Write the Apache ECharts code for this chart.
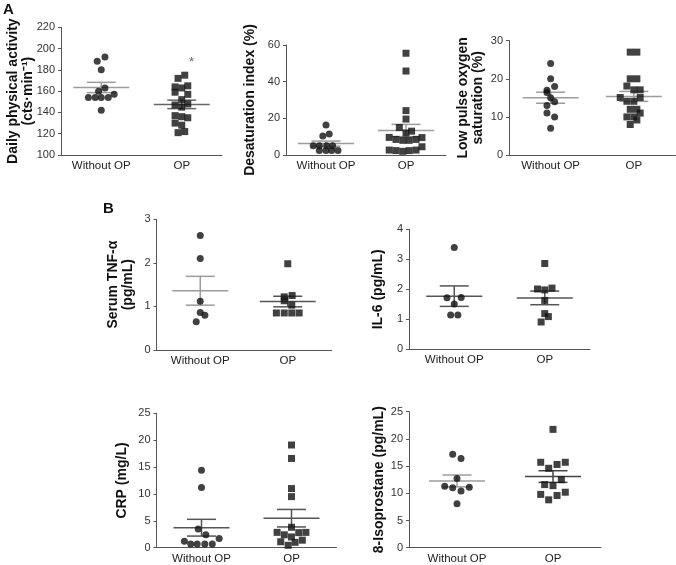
<!DOCTYPE html>
<html>
<head>
<meta charset="utf-8">
<script src="https://cdn.jsdelivr.net/npm/echarts@6/dist/echarts.min.js"></script>
<style>
html,body{margin:0;padding:0;background:#fff;}
#chart{width:676px;height:565px;}
</style>
</head>
<body>
<div id="chart"></div>
<script>
// ---------- DATA ----------
const categories = ['Without OP', 'OP'];

// A1 Daily physical activity (cts·min-1)
const activityWithout = [188, 192, 180, 163, 160, 157, 154, 154, 154, 154, 142];
const activityWithoutJitter = [-0.05, 0.046, 0, 0.046, -0.033, 0.16, -0.16, -0.075, 0, 0.087, 0];
const activityOP = [175, 172, 165, 164, 163, 159, 157, 152, 147, 148, 145, 137, 136, 135, 130, 128, 121, 122];
const activityOPJitter = [0.037, -0.046, 0.075, -0.083, 0, -0.083, 0.075, 0, -0.083, 0.075, 0, -0.083, 0, 0.075, -0.083, 0, -0.046, 0.037];
const activityTicks = [100, 220, 20];
const activityStar = [1.62, 187];

// A2 Desaturation index (%)
const desatWithout = [16.4, 10.4, 11.5, 5.1, 5.1, 5.1, 5.1, 2.4, 2.4, 2.4, 2.4];
const desatWithoutJitter = [0, -0.04, 0.04, -0.16, -0.083, 0.008, 0.083, -0.083, 0, 0.07, 0.15];
const desatOP = [55.5, 45.8, 24.2, 19.6, 15, 13, 12, 9.6, 8.5, 8, 8, 8.5, 9.5, 2.7, 2.4, 2, 2.4, 2.7, 4.5];
const desatOPJitter = [0, 0, 0, 0, -0.083, 0.07, 0, -0.21, -0.125, -0.04, 0.04, 0.125, 0.2, -0.21, -0.125, -0.04, 0.04, 0.125, 0.2];
const desatTicks = [0, 60, 20];

// A3 Low pulse oxygen saturation (%)
const lowSatWithout = [24, 20, 18, 17, 16.4, 15, 14, 13, 11, 10, 7];
const lowSatWithoutJitter = [0, 0, 0.048, -0.044, -0.044, 0, 0.048, -0.044, -0.044, 0.048, 0];
const lowSatOP = [27, 27, 20, 20, 18.1, 17.1, 17.1, 15.1, 14.1, 14.1, 15.1, 12, 12, 10, 10, 11, 9.2, 8];
const lowSatOPJitter = [-0.044, 0.036, -0.044, 0.036, -0.084, 0, 0.076, -0.164, -0.084, 0, 0.076, -0.044, 0.036, -0.084, 0, 0.076, 0.036, -0.044];
const lowSatTicks = [0, 30, 10];

// B1 Serum TNF-alpha (pg/mL)
const tnfWithout = [2.63, 2.10, 1.12, 0.86, 0.80, 0.65];
const tnfWithoutJitter = [0, 0, 0, 0, 0.053, -0.046];
const tnfOP = [1.98, 1.25, 1.22, 1.13, 1.03, 0.85, 0.85, 0.85, 0.85];
const tnfOPJitter = [0, 0.05, -0.04, -0.04, 0.046, -0.13, -0.04, 0.046, 0.13];
const tnfTicks = [0, 3, 1];

// B2 IL-6 (pg/mL)
const il6Without = [3.39, 1.72, 1.73, 1.51, 1.14, 1.14];
const il6WithoutJitter = [0, -0.08, 0.077, 0, -0.04, 0.04];
const il6OP = [2.86, 2.01, 1.98, 2.04, 1.63, 1.19, 1.09, 0.91];
const il6OPJitter = [0, -0.08, 0, 0.08, 0, 0, 0.04, -0.04];
const il6Ticks = [0, 4, 1];

// B3 CRP (mg/L)
const crpWithout = [14.4, 11.2, 3.5, 2.4, 1.7, 1.2, 0.7, 0.7, 0.7, 0.7];
const crpWithoutJitter = [0, 0, -0.037, 0.048, 0.196, -0.19, -0.12, -0.048, 0.037, 0.12];
const crpOP = [19.1, 16.6, 11.0, 9.5, 3.8, 2.85, 2.4, 2.0, 2.8, 2.85, 1.1, 0.45, 1.0, 1.4];
const crpOPJitter = [0, 0, 0, 0, 0, -0.16, -0.08, 0, 0.08, 0.16, -0.12, -0.037, 0.04, 0.12];
const crpTicks = [0, 25, 5];

// B4 8-Isoprostane (pg/mL)
const isoWithout = [17.2, 16.4, 12.7, 11.3, 11.0, 11.1, 10.4, 8.1];
const isoWithoutJitter = [-0.045, 0.042, 0, -0.128, -0.045, 0.128, 0.042, 0];
const isoOP = [21.75, 15.7, 14.6, 15.3, 15.7, 12.5, 11.6, 11.4, 9.8, 9.6, 10.2, 8.8];
const isoOPJitter = [0, -0.128, -0.045, 0.042, 0.128, 0.087, -0.087, 0, -0.128, 0.042, 0.128, -0.045];
const isoTicks = [0, 25, 5];

// ---------- LAYOUT / STYLE ----------
const FONT = '"Liberation Sans", Arial, Helvetica, sans-serif';
const panels = [
  {name:'Daily physical activity\n(cts·min⁻¹)', a:activityWithout, aj:activityWithoutJitter, b:activityOP, bj:activityOPJitter, ticks:activityTicks,
   grid:{left:61, top:27.3, width:161, height:127.7}, gap:25.5, lineColors:['#9c9c9c','#666']},
  {name:'Desaturation index (%)', a:desatWithout, aj:desatWithoutJitter, b:desatOP, bj:desatOPJitter, ticks:desatTicks,
   grid:{left:286, top:45, width:160, height:110}, gap:28.5, lineColors:['#9c9c9c','#9c9c9c']},
  {name:'Low pulse oxygen\nsaturation (%)', a:lowSatWithout, aj:lowSatWithoutJitter, b:lowSatOP, bj:lowSatOPJitter, ticks:lowSatTicks,
   grid:{left:509, top:40.7, width:166.5, height:114.3}, gap:23, lineColors:['#9c9c9c','#9c9c9c']},
  {name:'Serum TNF-α\n(pg/mL)', a:tnfWithout, aj:tnfWithoutJitter, b:tnfOP, bj:tnfOPJitter, ticks:tnfTicks,
   grid:{left:156.5, top:219.3, width:175, height:130.7}, gap:20.5, lineColors:['#9c9c9c','#555']},
  {name:'IL-6 (pg/mL)', a:il6Without, aj:il6WithoutJitter, b:il6OP, bj:il6OPJitter, ticks:il6Ticks,
   grid:{left:409, top:229.3, width:181, height:120}, gap:23, lineColors:['#555','#555']},
  {name:'CRP (mg/L)', a:crpWithout, aj:crpWithoutJitter, b:crpOP, bj:crpOPJitter, ticks:crpTicks,
   grid:{left:156.5, top:413.3, width:180, height:134.4}, gap:27, lineColors:['#555','#555']},
  {name:'8-Isoprostane (pg/mL)', a:isoWithout, aj:isoWithoutJitter, b:isoOP, bj:isoOPJitter, ticks:isoTicks,
   grid:{left:409, top:411.7, width:192, height:136}, gap:22.5, lineColors:['#9c9c9c','#444']}
];

function meanSem(arr){
  const n = arr.length;
  const m = arr.reduce((s,v)=>s+v,0)/n;
  const sd = Math.sqrt(arr.reduce((s,v)=>s+(v-m)*(v-m),0)/(n-1));
  const se = sd/Math.sqrt(n);
  return [m, m-se, m+se];
}

const grids = [], xAxes = [], yAxes = [], series = [];
const AXIS_COLOR = '#555';
const MEAN_HALF = 28, CAP_HALF = 14.5;

panels.forEach((p, i) => {
  grids.push(Object.assign({containLabel:false}, p.grid));
  xAxes.push({
    type:'category', gridIndex:i, data:categories, boundaryGap:true,
    axisLine:{lineStyle:{color:AXIS_COLOR, width:1}},
    axisTick:{alignWithLabel:true, length:3, lineStyle:{color:AXIS_COLOR}},
    axisLabel:{fontSize:11.5, color:'#222', fontFamily:FONT, margin:5, interval:0},
    splitLine:{show:false}
  });
  xAxes.push({type:'value', gridIndex:i, min:0, max:2, show:false});
  yAxes.push({
    type:'value', gridIndex:i, min:p.ticks[0], max:p.ticks[1], interval:p.ticks[2],
    name:p.name, nameLocation:'middle', nameRotate:90, nameGap:p.gap, nameMoveOverlap:false,
    nameTextStyle:{fontSize:14, fontWeight:'bold', color:'#111', fontFamily:FONT, lineHeight:15},
    axisLine:{show:true, lineStyle:{color:AXIS_COLOR, width:1}},
    axisTick:{show:true, length:3, lineStyle:{color:AXIS_COLOR}},
    axisLabel:{fontSize:11, color:'#333', fontFamily:FONT, margin:6},
    splitLine:{show:false}
  });
  const ms = [meanSem(p.a), meanSem(p.b)];
  series.push({
    type:'custom', xAxisIndex:2*i+1, yAxisIndex:i, z:1, silent:true,
    data:[[0.5, ms[0][0], ms[0][1], ms[0][2], 0], [1.5, ms[1][0], ms[1][1], ms[1][2], 1]],
    renderItem:(params, api) => {
      const c = api.value(0);
      const pm = api.coord([c, api.value(1)]);
      const pl = api.coord([c, api.value(2)]);
      const ph = api.coord([c, api.value(3)]);
      const st = {stroke:p.lineColors[api.value(4)], lineWidth:1.5};
      return {type:'group', children:[
        {type:'line', shape:{x1:pm[0]-MEAN_HALF, y1:pm[1], x2:pm[0]+MEAN_HALF, y2:pm[1]}, style:st},
        {type:'line', shape:{x1:pl[0]-CAP_HALF, y1:pl[1], x2:pl[0]+CAP_HALF, y2:pl[1]}, style:st},
        {type:'line', shape:{x1:ph[0]-CAP_HALF, y1:ph[1], x2:ph[0]+CAP_HALF, y2:ph[1]}, style:st},
        {type:'line', shape:{x1:pl[0], y1:pl[1], x2:ph[0], y2:ph[1]}, style:st}
      ]};
    }
  });
  series.push({
    type:'scatter', xAxisIndex:2*i+1, yAxisIndex:i, z:3, symbol:'circle', symbolSize:7,
    itemStyle:{color:'#111'},
    data:p.a.map((v,k)=>[0.5+p.aj[k], v])
  });
  series.push({
    type:'scatter', xAxisIndex:2*i+1, yAxisIndex:i, z:3, symbol:'rect', symbolSize:7,
    itemStyle:{color:'#111'},
    data:p.b.map((v,k)=>[1.5+p.bj[k], v])
  });
});

// significance star on panel A1
series.push({
  type:'scatter', xAxisIndex:1, yAxisIndex:0, symbolSize:1, itemStyle:{color:'rgba(0,0,0,0)'},
  data:[activityStar],
  label:{show:true, formatter:'*', position:'inside', fontSize:13, color:'#444', fontFamily:FONT}
});

const chart = echarts.init(document.getElementById('chart'), null, {renderer:'canvas'});
chart.setOption({
  animation:false,
  backgroundColor:'#fff',
  grid:grids, xAxis:xAxes, yAxis:yAxes, series:series,
  graphic:[
    {type:'text', left:3, top:2, style:{text:'A', font:'bold 15px '+FONT, fill:'#111'}},
    {type:'text', left:103, top:201, style:{text:'B', font:'bold 15px '+FONT, fill:'#111'}}
  ]
});
</script>
</body>
</html>
